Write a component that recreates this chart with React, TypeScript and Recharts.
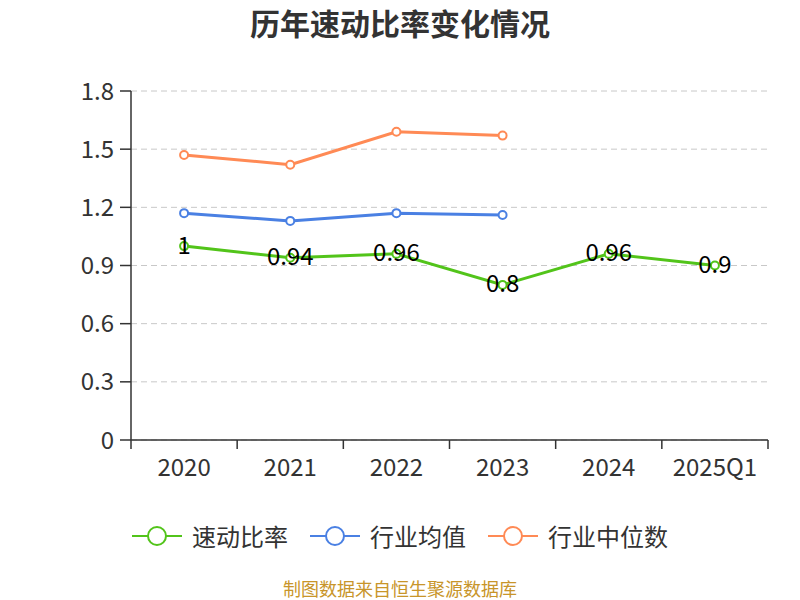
import { LineChart, Line, XAxis, YAxis, CartesianGrid, LabelList } from "recharts"

const years = ["2020", "2021", "2022", "2023", "2024", "2025Q1"]
const quickRatio = [1, 0.94, 0.96, 0.8, 0.96, 0.9]
const industryAvg = [1.17, 1.13, 1.17, 1.16, null, null]
const industryMedian = [1.47, 1.42, 1.59, 1.57, null, null]
const yTicks = [0, 0.3, 0.6, 0.9, 1.2, 1.5, 1.8]

const seriesNames = ["速动比率", "行业均值", "行业中位数"]
const colors = ["#52c41a", "#4a80e3", "#ff8a55"]

const data = years.map((year, i) => ({
  year,
  quick: quickRatio[i],
  avg: industryAvg[i],
  median: industryMedian[i],
}))

const W = 800
const H = 600
const margin = { top: 91, right: 32, left: 71, bottom: 130 }
const yAxisWidth = 60
const bandWidth = (W - margin.left - margin.right - yAxisWidth) / years.length
const font = "'Noto Sans CJK SC', 'Noto Sans', sans-serif"

function XTick(props: any) {
  const { x, y, payload, index } = props
  const last = index === years.length - 1
  return (
    <g>
      <line x1={x - bandWidth / 2} y1={y} x2={x - bandWidth / 2} y2={y + 9} stroke="#333" strokeWidth={1.5} />
      {last && <line x1={x + bandWidth / 2} y1={y} x2={x + bandWidth / 2} y2={y + 9} stroke="#333" strokeWidth={1.5} />}
      <text x={x} y={y + 25} textAnchor="middle" dominantBaseline="central" fontSize={24} fill="#333" fontFamily={font}>
        {payload.value}
      </text>
    </g>
  )
}

function ValueLabel(props: any) {
  const { x, y, value } = props
  return (
    <text x={x} y={y - 3} textAnchor="middle" dominantBaseline="central" fontSize={24} fill="#000" fontFamily={font}>
      {value}
    </text>
  )
}

const dot = (c: string) => ({ r: 4, fill: "#fff", stroke: c, strokeWidth: 2 })

export default function App() {
  return (
    <div style={{ position: "absolute", left: 0, top: 0, width: W, height: H, background: "#fff", fontFamily: font, overflow: "hidden" }}>
      <div style={{ position: "absolute", top: 6, width: W, textAlign: "center", fontSize: 30, lineHeight: "32px", fontWeight: "bold", color: "#333" }}>
        历年速动比率变化情况
      </div>
      <LineChart width={W} height={H} data={data} margin={margin}>
        <CartesianGrid vertical={false} stroke="#c8c8c8" strokeDasharray="6 4" />
        <XAxis
          dataKey="year"
          tick={<XTick />}
          tickLine={false}
          tickSize={0}
          tickMargin={0}
          interval={0}
          padding={{ left: bandWidth / 2, right: bandWidth / 2 }}
          stroke="#333"
          strokeWidth={1.5}
        />
        <YAxis
          width={yAxisWidth}
          domain={[0, 1.8]}
          ticks={yTicks}
          interval={0}
          tickSize={11}
          tickMargin={6}
          tick={{ fontSize: 24, fill: "#333", fontFamily: font }}
          stroke="#333"
          strokeWidth={1.5}
        />
        <Line dataKey="quick" stroke={colors[0]} strokeWidth={3} dot={dot(colors[0])} isAnimationActive={false}>
          <LabelList dataKey="quick" content={<ValueLabel />} />
        </Line>
        <Line dataKey="avg" stroke={colors[1]} strokeWidth={3} dot={dot(colors[1])} isAnimationActive={false} />
        <Line dataKey="median" stroke={colors[2]} strokeWidth={3} dot={dot(colors[2])} isAnimationActive={false} />
      </LineChart>
      <div style={{ position: "absolute", top: 521, left: 0, width: W, display: "flex", justifyContent: "center", gap: 22 }}>
        {seriesNames.map((name, i) => (
          <div key={name} style={{ display: "flex", alignItems: "center", gap: 10 }}>
            <svg width={50} height={30}>
              <line x1={0} y1={15} x2={50} y2={15} stroke={colors[i]} strokeWidth={2} />
              <circle cx={25} cy={15} r={9} fill="#fff" stroke={colors[i]} strokeWidth={2} />
            </svg>
            <span style={{ fontSize: 24, lineHeight: "30px", color: "#333" }}>{name}</span>
          </div>
        ))}
      </div>
      <div style={{ position: "absolute", top: 578, width: W, textAlign: "center", fontSize: 18, lineHeight: "20px", color: "#c8952a" }}>
        制图数据来自恒生聚源数据库
      </div>
    </div>
  )
}
